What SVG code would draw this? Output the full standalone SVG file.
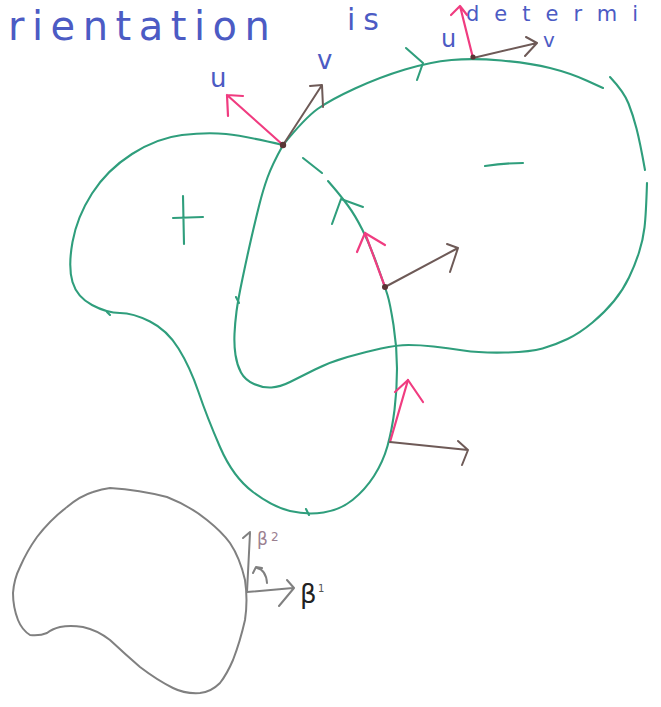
<svg xmlns="http://www.w3.org/2000/svg" width="661" height="707" viewBox="0 0 661 707">
<style>
.g{fill:none;stroke:#2f9e7c;stroke-width:2.1;stroke-linecap:round;stroke-linejoin:round}
.m{fill:none;stroke:#f03c80;stroke-width:2.2;stroke-linecap:round;stroke-linejoin:round}
.b{fill:none;stroke:#6e5a57;stroke-width:2;stroke-linecap:round;stroke-linejoin:round}
.k{fill:none;stroke:#808080;stroke-width:2;stroke-linecap:round;stroke-linejoin:round}
.t{fill:#4c5bc4;font-family:"DejaVu Sans",sans-serif}
.dot{fill:#5a3535}
</style>
<rect width="661" height="707" fill="#ffffff"/>
<g id="title">
<text class="t" x="8" y="40" font-size="40" letter-spacing="7.5">rientation</text>
<text class="t" x="347" y="30" font-size="30" letter-spacing="8">is</text>
<text class="t" x="466" y="21" font-size="21" letter-spacing="15">determi</text>
</g>
<g id="region-plus">
<path class="g" d="M283,145 Q245,136 226,134 Q207,132 182,135 Q157,138 132,154 Q107,170 92,193.5 Q77,217 72.5,242 Q68,267 72.5,282 Q77,297 92,305 Q107,313 120,313 Q133,313 150,321.5 Q167,330 178.5,348.5 Q190,367 198.5,392 Q207,417 220,447 Q233,477 253,492 Q273,507 290,511 Q307,515 323.5,512.5 Q340,510 352.5,500 Q365,490 374,476 Q383,462 387.5,446 Q392,430 394.5,410 Q397,390 397,368.5 Q397,347 393.5,325 Q390,303 387.5,295 Q385,287 377.5,266 Q370,245 362.5,230 Q355,215 347.5,205 Q340,195 334,188 L328,181"/>
<path class="g" d="M303,158 L322,173"/>
<path class="g" d="M332,224 L341,199 L363,207"/>
<path class="g" d="M306,509 l3,6"/>
<path class="g" d="M107,312 l3,3"/>
<path class="g" d="M183,196 L184,244 M173,218 L203,217"/>
</g>
<g id="region-minus">
<path class="g" d="M283,145 Q305,118 317.5,109 Q330,100 355,88.5 Q380,77 405,69.5 Q430,62 451.5,60 Q473,58 501.5,60.5 Q530,63 550,68 Q570,73 586.5,80.5 L603,88"/>
<path class="g" d="M610,77 Q624,92 628.5,103.5 Q633,115 636.5,128.5 Q640,142 645,170"/>
<path class="g" d="M647,183 Q646,215 644.5,227.5 Q643,240 639,252.5 Q635,265 629,277.5 Q623,290 614,301 Q605,312 592.5,322.5 Q580,333 567.5,339 Q555,345 542.5,348.5 Q530,352 505,352.5 Q480,353 463.5,350.5 Q447,348 433.5,346.5 Q420,345 408.5,345 Q397,345 381,348.5 Q365,352 347.5,357 Q330,362 315,369.5 Q300,377 290,382 Q280,387 271.5,387.5 Q263,388 254,384 Q245,380 241,372.5 Q237,365 235.5,355 Q234,345 234.5,334 Q235,323 236.5,311.5 Q238,300 242.5,278.5 Q247,257 251,239.5 Q255,222 259,206 Q263,190 267.5,177.5 Q272,165 283,145"/>
<path class="g" d="M406,48 L423,63 L417,80"/>
<path class="g" d="M236,297 l3,6"/>
<path class="g" d="M485,166 Q505,163 523,163"/>
</g>
<g id="vectors">
<path class="m" d="M283,145 L227,95 M243,96 L227,95 L228,116"/>
<path class="b" d="M283,145 L322,85 M310,86 L322,85 L323,107"/>
<path class="m" d="M473,58 L460,6 M451,15 L460,6 L467,15"/>
<path class="b" d="M473,58 L537,43 M526,37 L537,43 L525,56"/>
<path class="m" d="M385,287 L365,233" stroke-width="3.2"/>
<path class="m" d="M357,252 L365,233 L385,245"/>
<path class="b" d="M385,287 L458,248 M447,244 L458,248 L450,272"/>
<path class="m" d="M390,442 L408,380" stroke-width="3.2"/>
<path class="m" d="M395,392 L408,380 L423,402"/>
<path class="b" d="M390,442 L468,450 M458,441 L468,450 L462,465"/>
<circle class="dot" cx="283" cy="145" r="3.2"/>
<circle class="dot" cx="473" cy="57" r="2.6"/>
<circle class="dot" cx="385" cy="287" r="3"/>
<text class="t" x="210" y="87" font-size="26">u</text>
<text class="t" x="317" y="69" font-size="26">v</text>
<text class="t" x="441" y="47" font-size="24">u</text>
<text class="t" x="543" y="47" font-size="20">v</text>
</g>
<g id="basis">
<path class="k" d="M110,488 Q140,490 167,497 Q190,506 207,520 Q222,532 230,543 Q240,558 245,580 Q248,600 245,620 Q240,642 233,660 Q227,674 220,683 Q211,692 200,693 Q185,694 173,688 Q157,680 140,667 Q125,654 110,640 Q97,630 83,627 Q70,625 60,627 Q52,629 47,633 Q40,636 30,635 Q22,630 18,620 Q13,607 13,593 Q14,579 20,567 Q27,551 37,537 Q50,520 67,507 Q80,496 93,492 Q102,489 110,488 Z"/>
<path class="k" d="M247,592 L293,588 M287,580 L294,588 L279,606"/>
<path class="k" d="M247,592 L250,533 M243,538 L250,532"/>
<path class="k" d="M267,583 Q266,570 257,568 M253,573 L256,567 L262,568"/>
<text x="257" y="545" font-size="17" fill="#9a8090" font-family="DejaVu Sans, sans-serif">β</text>
<text x="271" y="541" font-size="12" fill="#9a8090" font-family="DejaVu Sans, sans-serif">2</text>
<text x="300" y="603" font-size="26" fill="#222222" font-family="DejaVu Sans, sans-serif">β</text>
<text x="318" y="592" font-size="10" fill="#555555" font-family="DejaVu Sans, sans-serif">1</text>
</g>
</svg>
